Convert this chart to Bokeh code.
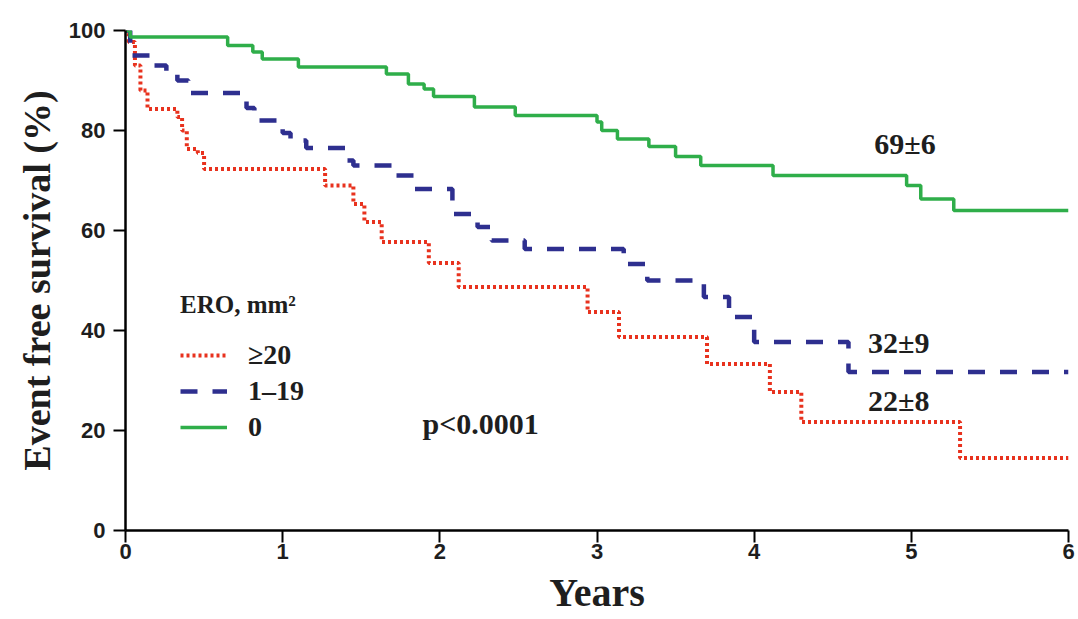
from bokeh.plotting import figure
from bokeh.models import Range1d, FixedTicker, Legend, LegendItem, Label
from bokeh.embed import file_html
from bokeh.resources import INLINE

# ---- data ----
# Kaplan-Meier steps: time of each drop (years) and survival (%) after it
ero0_t = [0.0, 0.03, 0.65, 0.81, 0.87, 1.10, 1.66, 1.80, 1.90, 1.96, 2.22, 2.48,
          3.00, 3.03, 3.13, 3.33, 3.50, 3.66, 4.12, 4.97, 5.06, 5.27, 6.0]
ero0_s = [100, 98.7, 97.0, 95.7, 94.3, 92.7, 91.3, 89.3, 88.3, 86.8, 84.7, 83.0,
          81.7, 80.0, 78.3, 76.8, 74.8, 73.0, 71.0, 69.0, 66.3, 64.0, 64.0]

ero1_t = [0.0, 0.03, 0.18, 0.26, 0.33, 0.40, 0.77, 0.82, 1.00, 1.05, 1.15, 1.40,
          1.45, 1.72, 1.84, 2.08, 2.24, 2.33, 2.54, 3.17, 3.32, 3.68, 3.84, 4.00,
          4.60, 6.0]
ero1_s = [100, 95.0, 93.0, 91.5, 90.0, 87.5, 84.5, 82.0, 79.5, 78.0, 76.5, 74.0,
          73.0, 71.0, 68.3, 63.3, 60.7, 58.0, 56.3, 53.3, 50.0, 46.7, 42.7, 37.7,
          31.7, 31.7]

ero20_t = [0.0, 0.02, 0.06, 0.095, 0.14, 0.33, 0.36, 0.39, 0.46, 0.50, 1.27, 1.45,
           1.52, 1.63, 1.93, 2.12, 2.94, 3.14, 3.70, 4.10, 4.30, 5.31, 6.0]
ero20_s = [100, 97.7, 93.0, 88.0, 84.3, 82.7, 80.0, 76.3, 75.5, 72.3, 69.0, 65.3,
           61.7, 57.7, 53.5, 48.7, 43.7, 38.7, 33.3, 27.7, 21.7, 14.5, 14.5]

group_labels = ["\u226520", "1\u201319", "0"]
legend_title = "ERO, mm\u00b2"
end_labels = ["69\u00b16", "32\u00b19", "22\u00b18"]
p_text = "p<0.0001"
x_ticks = [0, 1, 2, 3, 4, 5, 6]
y_ticks = [0, 20, 40, 60, 80, 100]

RED = "#e8321e"
BLUE = "#2e2f8f"
GREEN = "#2fae4a"
SERIF = "Liberation Serif"
SANS = "Liberation Sans"
INK = "#1e1e1e"

p = figure(width=1076, height=617, output_backend="svg", toolbar_location=None,
           x_range=Range1d(0, 6), y_range=Range1d(0, 100),
           min_border_left=125, min_border_right=8, min_border_top=30,
           min_border_bottom=87)
p.outline_line_color = None
p.xgrid.visible = False
p.ygrid.visible = False
p.background_fill_color = "white"
p.border_fill_color = "white"

r_red = p.step(ero20_t, ero20_s, mode="after", line_color=RED, line_width=4,
               line_dash="3 3")
r_blue = p.step(ero1_t, ero1_s, mode="after", line_color=BLUE, line_width=4.5,
                line_dash="17 15")
r_green = p.step(ero0_t, ero0_s, mode="after", line_color=GREEN, line_width=3.5)

for ax in (p.xaxis[0], p.yaxis[0]):
    ax.axis_line_width = 2.5
    ax.axis_line_color = "black"
    ax.major_tick_line_width = 2
    ax.major_tick_line_color = "black"
    ax.major_tick_out = 12
    ax.major_tick_in = 0
    ax.minor_tick_out = 0
    ax.minor_tick_in = 0
    ax.major_label_text_font = SANS
    ax.major_label_text_font_style = "bold"
    ax.major_label_text_font_size = "22px"
    ax.major_label_text_color = INK
    ax.axis_label_text_font = SERIF
    ax.axis_label_text_font_style = "bold"
    ax.axis_label_text_color = INK

p.xaxis.ticker = FixedTicker(ticks=x_ticks)
p.yaxis.ticker = FixedTicker(ticks=y_ticks)
p.xaxis.major_label_standoff = 1
p.yaxis.major_label_standoff = 8
p.xaxis.axis_label = "Years"
p.xaxis.axis_label_text_font_size = "40px"
p.xaxis.axis_label_standoff = 8
p.yaxis.axis_label = "Event free survival (%)"
p.yaxis.axis_label_text_font_size = "38px"
p.yaxis.axis_label_standoff = 8

legend = Legend(
    items=[LegendItem(label=group_labels[0], renderers=[r_red]),
           LegendItem(label=group_labels[1], renderers=[r_blue]),
           LegendItem(label=group_labels[2], renderers=[r_green])],
    title=legend_title, location=(55, 87),
    background_fill_alpha=0, border_line_alpha=0,
    padding=0, margin=0, spacing=4,
    glyph_width=47, glyph_height=20, label_height=32, label_standoff=21,
    label_text_font=SERIF, label_text_font_style="bold",
    label_text_font_size="28px", label_text_color=INK,
    title_text_font=SERIF, title_text_font_style="bold",
    title_text_font_size="25px", title_text_color=INK,
    title_standoff=20,
)
p.add_layout(legend, "center")

ann_pos = [(4.96, 77.4), (4.92, 37.6), (4.92, 26.0)]
for txt, (xx, yy) in zip(end_labels, ann_pos):
    p.add_layout(Label(x=xx, y=yy, text=txt, text_align="center",
                       text_baseline="middle", text_font=SERIF,
                       text_font_style="bold", text_font_size="30px",
                       text_color=INK))
p.add_layout(Label(x=1.89, y=21.4, text=p_text, text_align="left",
                   text_baseline="middle", text_font=SERIF,
                   text_font_style="bold", text_font_size="30px",
                   text_color=INK))

open("out.html", "w").write(file_html(p, INLINE))
